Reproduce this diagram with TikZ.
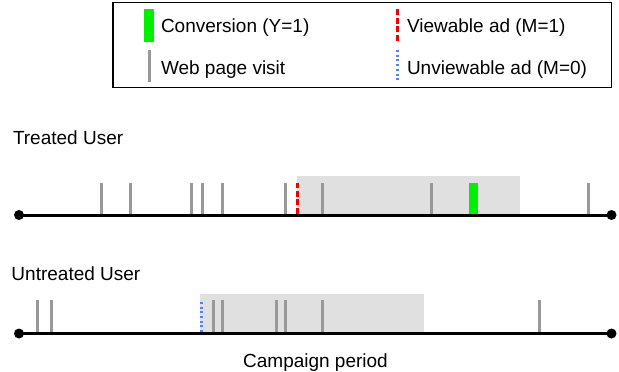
\documentclass[tikz,border=0pt]{standalone}
\usepackage{fontspec}
\setmainfont{Liberation Sans}
\definecolor{convgreen}{RGB}{0,240,0}
\definecolor{adred}{RGB}{240,0,0}
\definecolor{adblue}{RGB}{80,130,255}
\begin{document}
\begin{tikzpicture}[x=1pt,y=-1pt,
  every node/.style={inner sep=0pt, outer sep=0pt, font=\fontsize{19}{22}\selectfont},
  timeline/.style={line width=3pt, black},
  enddot/.style={circle, fill=black, minimum size=10pt},
  visit/.style={line width=3pt, draw=black!40},
  conv/.style={fill=convgreen},
  viewad/.style={line width=3pt, draw=adred, dash pattern=on 6pt off 2.5pt},
  unviewad/.style={line width=2.5pt, draw=adblue, dash pattern=on 2pt off 2.7pt},
  period/.style={fill=black!12, draw=none},
  label/.style={anchor=base west}
]
\useasboundingbox (0,0) rectangle (619,372);

% legend
\draw[line width=1.6pt] (113,2.5) rectangle (611.5,87.5);
\fill[conv] (144.3,9.3) rectangle (153.7,42);
\node[label] (lconv) at (161,32.3) {Conversion (Y=1)};
\draw[visit] (149,50) -- (149,82);
\node[label] (lvisit) at (161,74) {Web page visit};
\draw[viewad] (397.3,9.3) -- (397.3,42);
\node[label] (lview) at (407,32.3) {Viewable ad (M=1)};
\draw[unviewad] (397.3,50) -- (397.3,82);
\node[label] (lunview) at (407,74) {Unviewable ad (M=0)};

% treated user
\node[label] (ttitle) at (13,144) {Treated User};
\fill[period] (296.5,176) rectangle (520,214);
\node[enddot] (t0) at (19,215) {};
\node[enddot] (t1) at (611.5,215) {};
\draw[timeline] (t0.center) -- (t1.center);
\foreach \x in {101,130,191.7,202.3,222.7,285,322.3,431,588.7}
  \draw[visit] (\x,213.5) -- (\x,182.5);
\draw[viewad] (297.7,213.5) -- (297.7,182.5);
\fill[conv] (469,182.5) rectangle (478.3,213.5);

% untreated user
\node[label] (utitle) at (11.5,280) {Untreated User};
\fill[period] (200,294) rectangle (424.3,332.5);
\node[enddot] (u0) at (19,333.5) {};
\node[enddot] (u1) at (611.5,333.5) {};
\draw[timeline] (u0.center) -- (u1.center);
\foreach \x in {37.7,51,213.7,222.7,276,285.7,322.3,539}
  \draw[visit] (\x,332) -- (\x,300);
\draw[unviewad] (201.7,332) -- (201.7,300);

\node[anchor=base] (caption) at (315.5,367.5) {Campaign period};
\end{tikzpicture}
\end{document}
